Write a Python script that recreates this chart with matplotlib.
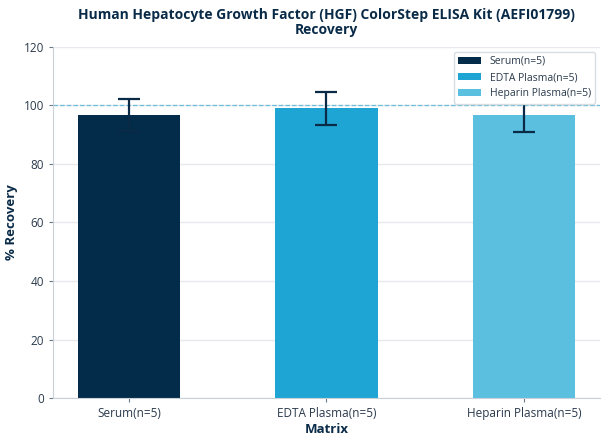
import matplotlib.pyplot as plt
import numpy as np

plt.rcParams['font.family'] = ['Open Sans', 'DejaVu Sans']

# recovery data
matrices = ['Serum(n=5)', 'EDTA Plasma(n=5)', 'Heparin Plasma(n=5)']
recovery = [96.7, 98.9, 96.7]
recovery_sd = [5.4, 5.6, 5.7]
bar_colors = ['#032b4a', '#1fa5d3', '#5bbfe0']

navy = '#0a2b48'
text_col = '#2a3a4c'

fig = plt.figure(figsize=(6.08, 4.44), dpi=100)
ax = fig.add_axes([0.087, 0.103, 0.900, 0.792])

x = np.arange(len(matrices))
bars = ax.bar(x, recovery, width=0.52, color=bar_colors, zorder=2)
ax.errorbar(x, recovery, yerr=recovery_sd, fmt='none', ecolor=navy,
            elinewidth=1.6, capsize=8, capthick=1.6, zorder=3)

ax.axhline(100, color='#6cbfd6', linestyle='--', linewidth=0.9, zorder=1)

ax.set_ylim(0, 120)
ax.set_yticks(range(0, 121, 20))
ax.set_xticks(x)
ax.set_xticklabels(matrices)
ax.set_xlim(-0.386, 2.386)

ax.yaxis.grid(True, color='#e6eaee', linewidth=1, zorder=0)
ax.set_axisbelow(True)
for side in ['top', 'right']:
    ax.spines[side].set_visible(False)
for side in ['left', 'bottom']:
    ax.spines[side].set_color('#c9d1d8')
ax.tick_params(axis='both', labelsize=8.5, colors=text_col, length=3,
               color='#6b7885')

ax.set_xlabel('Matrix', fontsize=9.5, fontweight='bold', color=navy, labelpad=2)
ax.set_ylabel('% Recovery', fontsize=9.5, fontweight='bold', color=navy)
ax.set_title('Human Hepatocyte Growth Factor (HGF) ColorStep ELISA Kit (AEFI01799)\nRecovery',
             fontsize=10, fontweight='bold', color=navy, pad=9, linespacing=1.1)

leg = ax.legend(bars, matrices, loc='upper right', fontsize=7.5, frameon=True,
                framealpha=1, borderaxespad=0.5, handlelength=2.2)
leg.get_frame().set_edgecolor('#d8dde2')
leg.set_zorder(5)
for t in leg.get_texts():
    t.set_color(text_col)

fig.savefig('out.png', dpi=100)
